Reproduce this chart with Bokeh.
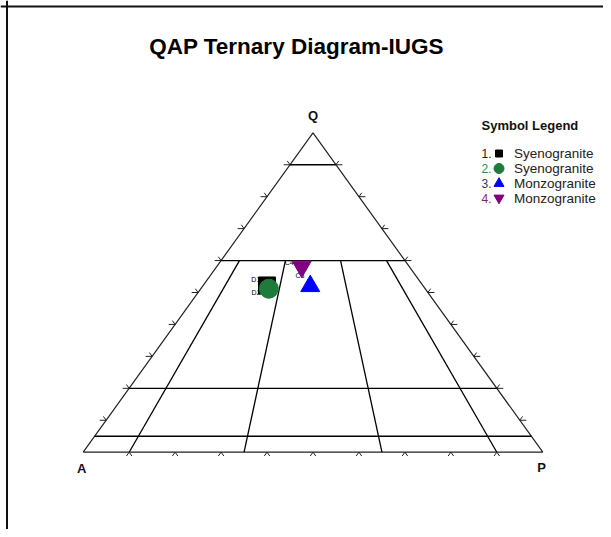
import numpy as np
from bokeh.plotting import figure
from bokeh.models import ColumnDataSource, Range1d, Span
from bokeh.core.properties import value
from bokeh.embed import file_html
from bokeh.resources import INLINE

# ---------------- data ----------------
title_text = "QAP Ternary Diagram-IUGS"
legend_title = "Symbol Legend"
vertex_names = ["Q", "A", "P"]
sample_ids = ["D1", "D2", "C3", "C4"]
rock_names = ["Syenogranite", "Syenogranite", "Monzogranite", "Monzogranite"]
legend_numbers = ["1.", "2.", "3.", "4."]
Q_pct = [52.2, 51.2, 52.0, 58.1]
A_pct = [33.9, 34.0, 24.6, 23.4]
P_pct = [13.9, 14.8, 23.4, 18.5]
markers = ["square", "circle", "triangle", "inverted_triangle"]
marker_colors = ["#000000", "#1e7b3c", "#0000ff", "#800080"]
number_colors = ["#222222", "#2e8b57", "#33338c", "#7f1f7f"]
q_field_lines = [90, 60, 20, 5]          # Q % of horizontal field boundaries
ratio_field_lines = [10, 35, 65, 90]     # 100*P/(A+P) boundaries
ratio_line_top_q = 60                    # ratio lines run from Q=0 to Q=60
tick_values = [10, 20, 30, 40, 50, 60, 70, 80, 90]

# ---------------- layout (pixels in the picture) ----------------
W, H = 603, 529
PX_A, PX_P = 82.7, 542.3
PY_BASE, PY_APEX = 451.7, 132.3
SX = PX_P - PX_A
SY = PY_BASE - PY_APEX
x_start = -PX_A / SX
x_end = x_start + W / SX
y_end = PY_BASE / SY
y_start = y_end - H / SY


def X(px):
    return x_start + px / SX


def Y(py):
    return y_end - py / SY


def tern(q, a, p):
    s = np.asarray(q, float) + np.asarray(a, float) + np.asarray(p, float)
    qn = np.asarray(q, float) / s
    pn = np.asarray(p, float) / s
    return pn + qn / 2.0, qn


p = figure(width=W, height=H, x_range=Range1d(x_start, x_end),
           y_range=Range1d(y_start, y_end), output_backend="svg",
           toolbar_location=None, min_border=0,
           x_axis_location=None, y_axis_location=None)
p.grid.visible = False
p.outline_line_color = None
p.background_fill_color = "white"
p.border_fill_color = "white"

# page frame (top and left visible)
p.add_layout(Span(location=X(6.5), dimension="height", line_color="#111111", line_width=2))
p.add_layout(Span(location=Y(6), dimension="width", line_color="#111111", line_width=2))

# triangle outline
p.line(x=[0, 1, 0.5, 0], y=[0, 0, 1, 0], line_color="#222222", line_width=1.2)

# horizontal field lines
for q in q_field_lines:
    f = q / 100.0
    p.line(x=[f / 2, 1 - f / 2], y=[f, f], line_color="black", line_width=1.3)

# ratio field lines
ft = ratio_line_top_q / 100.0
for r in ratio_field_lines:
    rf = r / 100.0
    p.line(x=[rf, rf * (1 - ft) + ft / 2], y=[0, ft], line_color="black", line_width=1.3)

# tick marks
L = 0.012
LH = 0.014
tx0, ty0, tx1, ty1 = [], [], [], []
for t in tick_values:
    f = t / 100.0
    # base
    for dx, dy in [(-0.5 * L, -L), (0.5 * L, -L)]:
        tx0.append(f); ty0.append(0); tx1.append(f + dx); ty1.append(dy)
    # left edge
    lx, ly = f / 2, f
    tx0 += [lx, lx]; ty0 += [ly, ly]
    tx1 += [lx - LH, lx - 0.5 * L]; ty1 += [ly, ly + L]
    # right edge
    rx, ry = 1 - f / 2, f
    tx0 += [rx, rx]; ty0 += [ry, ry]
    tx1 += [rx + LH, rx + 0.5 * L]; ty1 += [ry, ry + L]
p.segment(x0=tx0, y0=ty0, x1=tx1, y1=ty1, line_color="#222222", line_width=1)

# vertex labels
p.text(x=[0.5, 0, 1], y=[1, 0, 0], text=vertex_names,
       x_offset=[0, -1.4, -1.3], y_offset=[-17.6, 16, 15.5],
       text_align="center", text_baseline="middle",
       text_font=value("Liberation Sans"), text_font_style="bold",
       text_font_size="13px", text_color="#111111")

# samples
sx_, sy_ = tern(Q_pct, A_pct, P_pct)
lab = ColumnDataSource(dict(x=sx_, y=sy_, t=sample_ids,
                            xo=[-15.7, -17.3, -14.7, -17], yo=[-6, 3.7, -10.5, -4]))
p.text(x="x", y="y", text="t", x_offset="xo", y_offset="yo", source=lab,
       text_align="left", text_baseline="middle",
       text_font=value("Liberation Sans"), text_font_size="7px", text_color="black")
sizes = [17, 19, 19, 19]
for i in range(len(sample_ids)):
    p.scatter(x=[sx_[i]], y=[sy_[i]], marker=markers[i], size=sizes[i],
              fill_color=marker_colors[i], line_color=marker_colors[i])

# title
p.text(x=[X(296)], y=[Y(45.5)], text=[title_text], text_align="center",
       text_baseline="middle", text_font=value("Liberation Sans"),
       text_font_style="bold", text_font_size="22.5px", text_color="black")

# legend
p.text(x=[X(481)], y=[Y(124.5)], text=[legend_title], text_align="left",
       text_baseline="middle", text_font=value("Liberation Sans"),
       text_font_style="bold", text_font_size="13px", text_color="#111111")
row_py = [153, 168, 183, 197.5]
leg_sizes = [7, 10, 10, 10]
for i in range(len(rock_names)):
    yy = Y(row_py[i])
    p.text(x=[X(481)], y=[yy], text=[legend_numbers[i]], text_align="left",
           text_baseline="middle", text_font=value("Liberation Sans"),
           text_font_size="12px", text_color=number_colors[i])
    p.scatter(x=[X(498.5)], y=[yy], marker=markers[i], size=leg_sizes[i],
              fill_color=marker_colors[i], line_color=marker_colors[i])
    p.text(x=[X(513.5)], y=[yy], text=[rock_names[i]], text_align="left",
           text_baseline="middle", text_font=value("Liberation Sans"),
           text_font_size="13.5px", text_color="#222222")

open("out.html", "w").write(file_html(p, INLINE))
